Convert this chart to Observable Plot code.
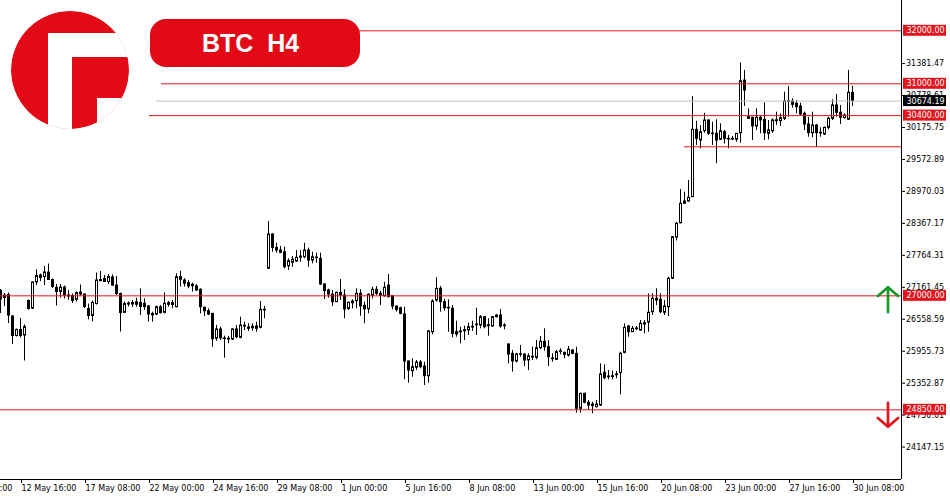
<!DOCTYPE html>
<html><head><meta charset="utf-8">
<script src="https://cdn.jsdelivr.net/npm/d3@7"></script>
<script src="https://cdn.jsdelivr.net/npm/@observablehq/plot@0.6"></script>
<style>
body{margin:0;background:#fff}
#wrap{position:relative;width:950px;height:500px;overflow:hidden;background:#fff}
#overlay{position:absolute;left:0;top:0;pointer-events:none}
</style>
</head><body>
<div id="wrap"></div>
<script>
// ---- Data (BTC H4) ----
const open = [27091,27006,27016,26610,26242,26356,26252,26903,26761,27252,
27384,27355,27440,27299,27148,27073,27158,27006,26997,26925,
27063,27025,26752,26620,26846,27299,27318,27261,27346,27195,
27034,26680,26856,26837,26831,26865,26850,26799,26658,26648,
26786,26680,26861,26827,26786,27352,27290,27239,27209,27176,
27114,26774,26710,26661,26190,26365,26195,26176,26176,26365,
26209,26435,26403,26416,26378,26397,26737,27510,28157,27902,
27855,27823,27559,27623,27648,27718,27729,27855,27666,27723,
27698,27214,27101,27020,26880,27057,27006,26755,26861,26899,
27038,26812,26748,27006,27114,27038,26993,27195,26993,26799,
26767,26648,25761,25579,25643,25742,25667,25484,26314,26912,
27133,26880,26774,26755,26314,26318,26333,26346,26403,26446,
26441,26597,26435,26422,26629,26629,26441,26082,25906,25761,
25887,25893,25780,25837,25831,26012,26133,26031,25818,25793,
25944,25925,25874,25968,25906,24869,25152,24982,24950,24899,
24931,25548,25478,25469,25503,25542,25925,26422,26314,26371,
26346,26484,26497,26692,26944,26925,26680,26786,27322,28100,
28370,28736,28780,28861,30132,29930,30106,30308,30063,30057,
29943,30087,29962,29955,29943,30068,31062,30370,30359,30195,
30359,30321,30057,30106,30302,30294,30340,30660,30666,30623,
30572,30434,30233,30068,30214,30076,30044,30170,30340,30591,
30453,30351,30321,30830];
const high = [27120,27044,27053,26629,26374,26573,26450,26922,27261,27488,
27412,27553,27600,27318,27214,27214,27186,27100,27034,27072,
27205,27034,26846,26903,27431,27459,27384,27403,27393,27365,
27053,26884,26884,26912,26955,27133,26944,26818,26692,26808,
26818,27057,26893,26912,27416,27465,27322,27290,27239,27214,
27133,26786,26755,26661,26441,26409,26239,26233,26378,26441,
26597,26503,26473,26473,26503,26893,26799,28402,28170,27993,
27931,27917,27698,27742,27855,27855,27993,27899,27823,27805,
27805,27233,27125,27101,27069,27308,27114,26880,26925,27133,
27114,26880,27038,27164,27176,27082,27257,27403,27006,26808,
26786,26786,25771,25813,25780,25780,25748,26346,26925,27340,
27176,26931,26925,26818,26522,26409,26428,26484,26522,26767,
26629,26610,26567,26610,26648,26742,26473,26095,25968,25918,
26063,25906,25906,26031,26157,26233,26378,26157,25905,25968,
26000,25937,26044,25987,26031,25163,25163,25026,24994,25026,
25717,25699,25592,25579,25573,25937,26473,26441,26422,26422,
26535,26535,27034,27038,27133,27038,26912,27352,28120,28383,
29006,28955,29176,30761,30294,30214,30446,30317,30276,30321,
30246,30119,30025,30006,30063,31396,31251,30529,30370,30529,
30383,30642,30308,30340,30465,30434,30842,30949,30717,30685,
30634,30465,30370,30465,30233,30170,30182,30370,30698,30798,
30591,30434,31251,30949];
const low = [26667,26799,26478,26082,26224,26205,25771,26733,26742,27195,
27271,27195,27290,27139,26808,26959,26941,26912,26856,26884,
26997,26761,26545,26507,26827,27261,27252,27214,27176,27006,
26318,26667,26790,26780,26786,26629,26724,26503,26503,26629,
26658,26661,26786,26755,26774,27164,27164,27133,27069,27082,
26661,26610,26629,26031,26144,26157,25824,26095,26157,26190,
26190,26346,26328,26333,26314,26378,26567,27508,27823,27805,
27793,27510,27478,27540,27634,27634,27698,27540,27604,27616,
27195,26931,26956,26799,26874,26912,26567,26724,26755,26755,
26616,26473,26661,26944,27006,26818,26974,26963,26737,26692,
26642,25416,25352,25465,25592,25624,25309,25352,26265,26880,
26692,26710,26314,26209,26220,26095,26157,26252,26328,26252,
26378,26378,26239,26409,26586,26390,26359,25717,25560,25735,
25843,25667,25592,25780,25793,25987,25955,25667,25748,25780,
25887,25812,25843,25887,24786,24786,24963,24837,24775,24888,
24912,25416,25416,25416,25435,25133,25906,26220,26314,26346,
26333,26284,26314,26629,26818,26661,26629,26610,27308,28034,
28355,28729,28766,28855,29837,29775,30068,30025,29837,29491,
29930,29868,29775,29930,29898,29879,30572,30332,29930,30119,
30057,29930,29943,30068,30214,30195,30308,30370,30540,30434,
30402,30119,29993,29981,29804,29993,30025,30132,30308,30370,
30233,30340,30308,30572];
const close = [26931,26959,26629,26242,26356,26242,26412,26752,27252,27374,
27336,27440,27299,27167,27073,27158,27006,26987,26903,27053,
27025,26790,26620,26865,27290,27280,27261,27355,27195,27034,
26676,26846,26837,26865,26880,26790,26786,26648,26629,26786,
26673,26850,26831,26861,27352,27303,27228,27176,27182,27101,
26786,26710,26648,26182,26365,26201,26186,26190,26365,26220,
26441,26422,26378,26390,26422,26737,26724,28157,27906,27855,
27811,27540,27653,27680,27718,27742,27855,27666,27729,27710,
27214,27091,27025,26880,27057,27006,26742,26869,26893,27038,
26799,26748,27020,27114,27038,27001,27151,26974,26799,26737,
26661,25761,25592,25654,25742,25654,25484,26328,26893,27133,
26880,26767,26767,26284,26271,26328,26352,26409,26416,26459,
26597,26409,26446,26597,26597,26422,26428,25893,25761,25893,
25899,25780,25861,25850,26012,26133,26031,25843,25805,25937,
25956,25887,25982,25906,24869,25152,24982,24931,24922,24950,
25516,25447,25465,25484,25516,25906,26397,26314,26378,26384,
26473,26459,26680,26944,26912,26692,26799,27322,28106,28359,
28736,28780,28849,30132,29962,30087,30308,30057,30050,29930,
30106,29962,29955,29962,30057,31049,30874,30340,30195,30359,
30308,30068,30119,30308,30313,30351,30666,30672,30604,30559,
30421,30233,30068,30214,30068,30063,30170,30340,30591,30453,
30359,30402,30830,30674.19];

// x tick labels (every 16 bars)
const xTickBars = [-11,5,21,37,53,69,85,101,117,133,149,165,181,197,213];
const xTickLabels = ["10 May 00:00","12 May 16:00","17 May 08:00","22 May 00:00","24 May 16:00","29 May 08:00","1 Jun 00:00","5 Jun 16:00","8 Jun 08:00","13 Jun 00:00","15 Jun 16:00","20 Jun 08:00","23 Jun 00:00","27 Jun 16:00","30 Jun 08:00"];
// price axis ticks
const yTicks = [24147.15,24750.01,25352.87,25955.73,26558.59,27161.45,27764.31,28367.17,28970.03,29572.89,30175.75,30778.61,31381.47];

// horizontal levels
const levelPrice = [32000, 31000, 30674.19, 30400, 29812, 27000, 24850];
const levelStartBar = [89.5, 40.25, 39, 37.25, 171, 0, 0];
const levelKind = ["red","red","price","red","plain","red","red"];

// direction arrows
const arrowBar = [222, 222];
const arrowTip = [27152, 24522];
const arrowTail = [26661, 24993];
const arrowColor = ["#149a2c", "#e3141c"];

// ---- Build ----
const RED = "#e3141c";
const xDomain = [0, 225.25];
const yDomain = [23535.3, 32571.6];

const bars = open.map((o, i) => ({i, open: o, high: high[i], low: low[i], close: close[i]}));
const up = bars.filter(d => d.close > d.open);
const down = bars.filter(d => d.close <= d.open);
const doji = bars.filter(d => Math.abs(d.close - d.open) < 12);
const levels = levelPrice.map((p, j) => ({price: p, start: levelStartBar[j], kind: levelKind[j]}));
const labeled = levels.filter(d => d.kind !== "plain");
const tickLabel = new Map(xTickBars.map((b, j) => [b, xTickLabels[j]]));

const chart = Plot.plot({
  width: 950, height: 500,
  marginLeft: 0, marginRight: 49, marginTop: 0, marginBottom: 21,
  x: {domain: xDomain, axis: null},
  y: {domain: yDomain, axis: null},
  style: {fontFamily: "DejaVu Sans", fontSize: "8px", color: "#000", background: "#fff", overflow: "visible"},
  marks: [
    Plot.ruleX(bars, {x: "i", y1: "low", y2: "high", stroke: "#000", strokeWidth: 1}),
    Plot.rect(up, {x1: d => d.i - 0.25, x2: d => d.i + 0.25, y1: "open", y2: "close", dx: 0.5, fill: "#fff", stroke: "#000", strokeWidth: 1}),
    Plot.rect(down, {x1: d => d.i - 0.25, x2: d => d.i + 0.25, y1: "open", y2: "close", dx: 0.5, fill: "#000", stroke: "#000", strokeWidth: 1}),
    Plot.ruleY(doji, {y: "open", x1: d => d.i - 0.375, x2: d => d.i + 0.375, stroke: "#000", strokeWidth: 1}),
    Plot.ruleY(levels, {y: "price", x1: "start", x2: xDomain[1], stroke: d => d.kind === "price" ? "#c0c0c0" : RED, strokeWidth: 1}),
    Plot.ruleY([yDomain[0]], {stroke: "#000"}),
    Plot.ruleX([xDomain[1]], {stroke: "#000"}),
    Plot.axisX({ticks: xTickBars, tickFormat: d => tickLabel.get(d), tickSize: 4, tickPadding: 2, textAnchor: "start", dx: 1, label: null, fill: "#000", stroke: "#000"}),
    Plot.axisY({anchor: "right", ticks: yTicks, tickFormat: d3.format(".2f"), tickSize: 3, tickPadding: 1.5, label: null, fill: "#000"}),
    Plot.rect(labeled, {x1: xDomain[1], x2: xDomain[1], y1: "price", y2: "price", insetLeft: 2, insetRight: -45, insetTop: -5.5, insetBottom: -5.5, fill: d => d.kind === "price" ? "#000" : RED}),
    Plot.text(labeled, {x: xDomain[1], y: "price", text: d => d.price.toFixed(2), dx: 5, textAnchor: "start", fill: "#fff", fontSize: 8})
  ]
});

const wrap = document.getElementById("wrap");
wrap.appendChild(chart);

// arrows placed through the plot's own scales
const sx = chart.scale("x"), sy = chart.scale("y");
const svg = d3.select(chart);
arrowBar.forEach((b, j) => {
  const x = sx.apply(b), yt = sy.apply(arrowTip[j]), yb = sy.apply(arrowTail[j]);
  const dir = yt < yb ? 1 : -1;
  svg.append("path")
    .attr("d", `M${x},${yb}L${x},${yt}M${x - 11},${yt + dir * 9.5}L${x},${yt}L${x + 11},${yt + dir * 9.5}`)
    .attr("fill", "none").attr("stroke", arrowColor[j]).attr("stroke-width", 2.7);
});

// logo and title badge
const ov = d3.select(wrap).append("svg").attr("id", "overlay").attr("width", 950).attr("height", 500);
ov.append("clipPath").attr("id", "logoClip").append("circle").attr("cx", 70).attr("cy", 70).attr("r", 59);
const lg = ov.append("g").attr("clip-path", "url(#logoClip)");
lg.append("circle").attr("cx", 70).attr("cy", 70).attr("r", 59).attr("fill", "#e20a16");
lg.append("rect").attr("x", 48).attr("y", 33).attr("width", 24).attr("height", 100).attr("fill", "#fff");
lg.append("rect").attr("x", 48).attr("y", 33).attr("width", 90).attr("height", 24).attr("fill", "#fff");
lg.append("rect").attr("x", 97).attr("y", 98).attr("width", 40).attr("height", 40).attr("fill", "#fff");
ov.append("rect").attr("x", 150).attr("y", 19).attr("width", 210).attr("height", 48).attr("rx", 16).attr("fill", "#e20a16");
ov.append("text").attr("x", 202).attr("y", 52).attr("fill", "#fff")
  .attr("font-family", "Liberation Sans, Arial, sans-serif").attr("font-weight", "bold").attr("font-size", 25)
  .style("white-space", "pre").text("BTC  H4");
</script>
</body></html>
